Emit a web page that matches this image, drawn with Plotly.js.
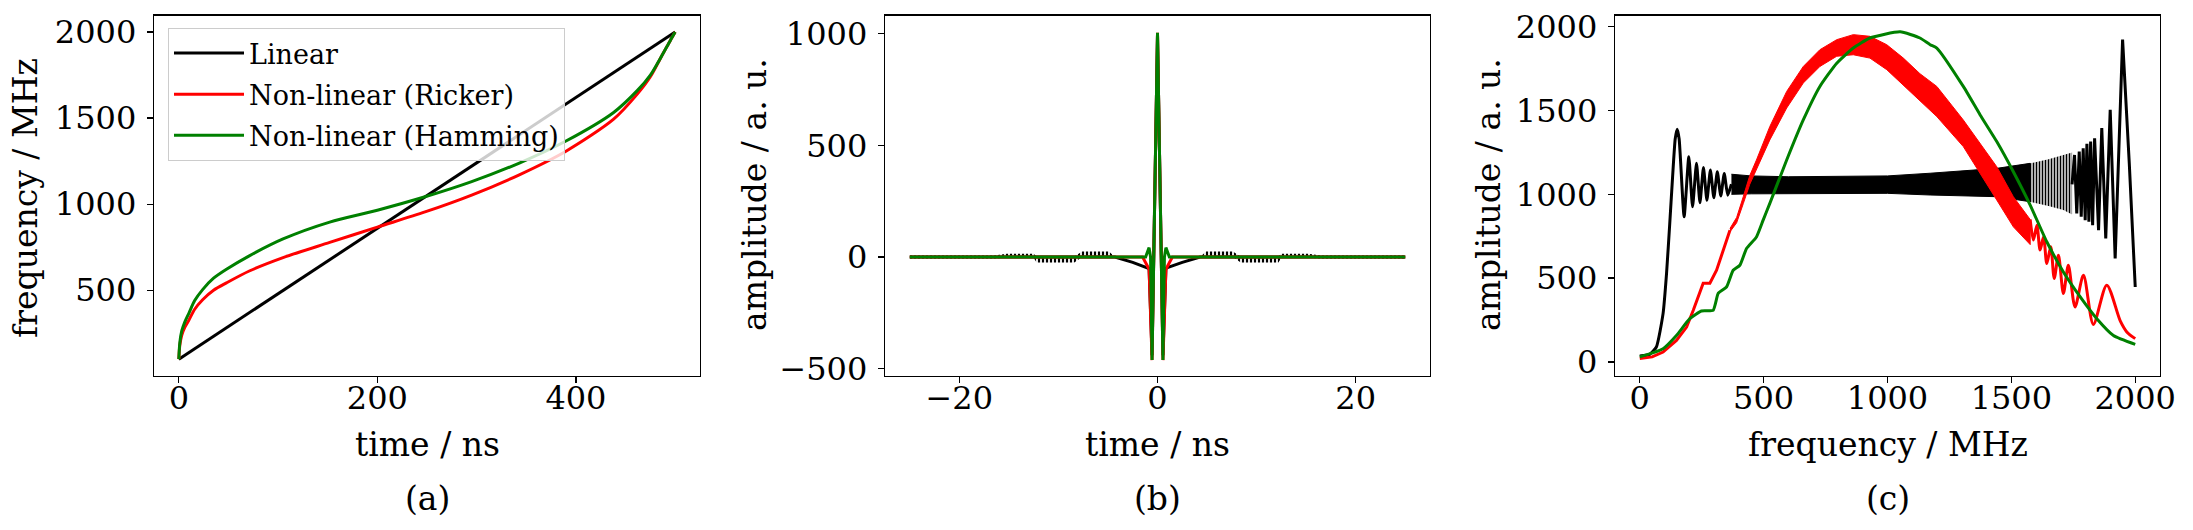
<!DOCTYPE html>
<html>
<head>
<meta charset="utf-8">
<script src="https://cdn.plot.ly/plotly-3.0.1.min.js"></script>
<style>body { margin: 0; background: #fff; }</style>
</head>
<body>
<div id="main" style="width:2193px;height:530px"></div>
<script>
// (a) chirp frequency vs time
const linTime = [0, 500]
const linFreq = [100, 2000]
const nlTime = [0, 1, 3, 6, 10, 16, 24, 35, 48, 71, 105, 152, 200, 248, 295, 343, 390, 438, 462, 475, 486, 495, 500]
const rickerFreq = [100, 180, 240, 285, 325, 390, 445, 500, 543, 612, 690, 778, 867, 955, 1053, 1171, 1308, 1494, 1641, 1740, 1857, 1950, 2000]
const hammingFreq = [100, 195, 265, 315, 365, 440, 504, 570, 622, 700, 798, 896, 965, 1043, 1131, 1239, 1367, 1533, 1661, 1750, 1857, 1950, 2000]

// (b) compressed pulse
const pulseLinT = [-25, -4.3, -2.5, -1.0, -0.85, -0.55, 0, 0.55, 0.85, 1.0, 2.5, 4.3, 25]
const pulseLinA = [0, 0, -24, -48, -52, -440, 1000, -440, -52, -48, -24, 0, 0]
const rippleT = [-25, -16.5, -15.2, -12.5, -12.2, -8.4, -7.6, -4.9, -4.3, 4.3, 4.9, 7.6, 8.4, 12.2, 12.5, 15.2, 16.5, 25]
const rippleHi = [7, 7, 15, 15, 2, 2, 24, 24, 0, 0, 24, 24, 2, 2, 15, 15, 7, 7]
const rippleLo = [-7, -7, -3, -3, -25, -25, 0, 0, 0, 0, 0, 0, -25, -25, -3, -3, -7, -7]
const pulseRickerT = [-25, -1.5, -0.85, -0.55, 0, 0.55, 0.85, 1.5, 25]
const pulseRickerA = [0, 0, -55, -462, 1005, -462, -55, 0, 0]
const pulseHammT = [-25, -1.2, -0.85, -0.7, -0.55, 0, 0.55, 0.7, 0.85, 1.2, 25]
const pulseHammA = [0, 0, 42, 0, -462, 1005, -462, 0, 42, 0, 0]

// (c) spectra
const specLinF1 = [0, 40, 67, 94, 108, 121, 135, 143, 151, 159, 179, 198, 213, 229, 243, 257, 271, 285, 299, 313, 327, 341, 355, 370]
const specLinA1 = [35, 45, 89, 288, 527, 826, 1165, 1330, 1389, 1330, 866, 1225, 926, 1185, 950, 1160, 965, 1145, 980, 1135, 990, 1125, 995, 1060]
const specLinBandF = [370, 450, 600, 800, 1000, 1172, 1300, 1441, 1576]
const specLinBandHi = [1120, 1110, 1105, 1108, 1110, 1126, 1140, 1155, 1185]
const specLinBandLo = [1000, 1003, 1006, 1006, 1006, 996, 990, 986, 956]
const specLinFanF = [1560, 1576, 1650, 1710, 1745]
const specLinFanHi = [1180, 1185, 1210, 1235, 1250]
const specLinFanLo = [960, 956, 930, 906, 880]
const specLinF2 = [1745, 1755, 1764, 1774, 1782, 1790, 1798, 1805, 1813, 1820, 1828, 1836, 1852, 1865, 1881, 1899, 1919, 1949, 1976, 2000]
const specLinA2 = [1060, 1235, 886, 1255, 866, 1275, 846, 1301, 836, 1315, 816, 1335, 786, 1395, 737, 1504, 617, 1923, 1185, 447]

const specRickerF1 = [0, 50, 94, 148, 189, 216, 256, 283, 310, 337, 364]
const specRickerA1 = [21, 30, 59, 128, 208, 308, 469, 470, 547, 667, 786]
const specRickerBandF = [364, 391, 418, 444, 471, 525, 593, 660, 727, 795, 862, 929, 997, 1064, 1131, 1199, 1306, 1374, 1441, 1508, 1576]
const specRickerBandLo = [776, 830, 945, 1060, 1145, 1325, 1515, 1664, 1763, 1824, 1833, 1813, 1744, 1654, 1560, 1464, 1285, 1126, 966, 806, 700]
const specRickerBandHi = [796, 862, 987, 1112, 1205, 1405, 1614, 1763, 1863, 1923, 1953, 1943, 1893, 1813, 1720, 1644, 1444, 1305, 1165, 986, 850]
const specRickerF2 = [1576, 1589, 1603, 1616, 1630, 1643, 1659, 1673, 1690, 1710, 1730, 1757, 1791, 1831, 1885, 1940, 1966, 2000]
const specRickerA2 = [850, 727, 816, 668, 747, 587, 687, 498, 637, 408, 577, 328, 517, 224, 458, 243, 179, 139]

const specHammF = [0, 94, 148, 202, 249, 296, 317, 350, 377, 404, 431, 471, 498, 525, 593, 660, 727, 795, 862, 929, 1051, 1131, 1172, 1199, 1306, 1374, 1441, 1508, 1576, 1643, 1710, 1778, 1845, 1912, 2000]
const specHammA = [30, 79, 158, 258, 304, 308, 410, 447, 547, 577, 677, 746, 846, 946, 1205, 1444, 1644, 1783, 1873, 1933, 1970, 1933, 1893, 1873, 1644, 1474, 1315, 1135, 936, 717, 537, 388, 258, 158, 105]

const legendNames = ['Linear', 'Non-linear (Ricker)', 'Non-linear (Hamming)']
const BLACK = '#000000', RED = '#ff0000', GREEN = '#008000'
const FONT = 'DejaVu Serif'
const LW = 3

const line = (x, y, color, ax, extra) => Object.assign({
  x: x, y: y, type: 'scatter', mode: 'lines',
  line: { color: color, width: LW },
  xaxis: ax[0], yaxis: ax[1], showlegend: false, hoverinfo: 'skip'
}, extra || {})

const smooth = (color, s) => ({ line: { color: color, width: LW, shape: 'spline', smoothing: s } })

// dense oscillations drawn as a filled envelope
const band = (x, lo, hi, color, ax, pattern) => {
  const tr = {
    x: x.concat(x.slice().reverse()),
    y: hi.concat(lo.slice().reverse()),
    type: 'scatter', mode: 'lines', fill: 'toself', fillcolor: color,
    line: { color: color, width: 1 },
    xaxis: ax[0], yaxis: ax[1], showlegend: false, hoverinfo: 'skip'
  }
  if (pattern) {
    tr.fillpattern = { shape: '|', size: pattern, solidity: 0.55, fgcolor: color, bgcolor: 'rgba(0,0,0,0)', fillmode: 'replace' }
    tr.line = { color: color, width: 0 }
  }
  return tr
}

const A = ['x', 'y'], B = ['x2', 'y2'], C = ['x3', 'y3']

const data = [
  line(linTime, linFreq, BLACK, A, { name: legendNames[0], showlegend: true, legendgroup: 'g1' }),
  line(nlTime, rickerFreq, RED, A, Object.assign({ name: legendNames[1], showlegend: true, legendgroup: 'g2' }, smooth(RED, 0.8))),
  line(nlTime, hammingFreq, GREEN, A, Object.assign({ name: legendNames[2], showlegend: true, legendgroup: 'g3' }, smooth(GREEN, 0.8))),

  band(rippleT, rippleLo, rippleHi, BLACK, B, 4),
  line(pulseLinT, pulseLinA, BLACK, B),
  line(pulseRickerT, pulseRickerA, RED, B),
  line(pulseHammT, pulseHammA, GREEN, B),

  line(specLinF1, specLinA1, BLACK, C, smooth(BLACK, 0.5)),
  band(specLinBandF, specLinBandLo, specLinBandHi, BLACK, C),
  band(specLinFanF, specLinFanLo, specLinFanHi, BLACK, C, 3),
  line(specLinF2, specLinA2, BLACK, C),
  line(specRickerF1, specRickerA1, RED, C),
  band(specRickerBandF, specRickerBandLo, specRickerBandHi, RED, C),
  line(specRickerF2, specRickerA2, RED, C, smooth(RED, 0.8)),
  line(specHammF, specHammA, GREEN, C, smooth(GREEN, 0.5)),
]

const W = 2193, H = 530
const px = v => v / W
const py = v => 1 - v / H
const yDom = [py(375.5), py(15.7)]

const axis = (domain, range, extra) => Object.assign({
  domain: domain, range: range, showline: true, mirror: true,
  linecolor: '#000', linewidth: 1.3, ticks: 'outside', ticklen: 6, tickwidth: 1.3,
  tickcolor: '#000', showgrid: false, zeroline: false, automargin: false,
  tickfont: { family: FONT, size: 32, color: '#000' }, ticklabelstandoff: 4
}, extra)

const ann = (text, x, y, angle) => ({
  text: text, x: x, y: y, xref: 'paper', yref: 'paper', showarrow: false,
  xanchor: 'center', yanchor: 'middle', textangle: angle || 0,
  font: { family: FONT, size: 33, color: '#000' }
})

const layout = {
  width: W, height: H,
  margin: { l: 0, r: 0, t: 0, b: 0 },
  paper_bgcolor: '#fff', plot_bgcolor: '#fff',
  xaxis: axis([px(154), px(700)], [-25, 525], { tickvals: [0, 200, 400], anchor: 'y', ticklabelstandoff: -12 }),
  yaxis: axis(yDom, [5, 2095], { tickvals: [500, 1000, 1500, 2000], anchor: 'x' }),
  xaxis2: axis([px(885), px(1430)], [-27.5, 27.5], { tickvals: [-20, 0, 20], anchor: 'y2', ticklabelstandoff: -12 }),
  yaxis2: axis(yDom, [-531, 1081], { tickvals: [-500, 0, 500, 1000], anchor: 'x2' }),
  xaxis3: axis([px(1615), px(2160)], [-100, 2100], { tickvals: [0, 500, 1000, 1500, 2000], anchor: 'y3', ticklabelstandoff: -12 }),
  yaxis3: axis(yDom, [-81, 2066], { tickvals: [0, 500, 1000, 1500, 2000], anchor: 'x3' }),
  showlegend: true,
  legend: {
    x: px(168), y: py(28), xanchor: 'left', yanchor: 'top',
    bgcolor: 'rgba(255,255,255,0.8)', bordercolor: '#cccccc', borderwidth: 1,
    font: { family: FONT, size: 27, color: '#000' }, tracegroupgap: 3, itemwidth: 70
  },
  annotations: [
    ann('time / ns', px(427), py(444)),
    ann('time / ns', px(1157.5), py(444)),
    ann('frequency / MHz', px(1887.5), py(444)),
    ann('frequency / MHz', px(26), py(198), -90),
    ann('amplitude / a. u.', px(754), py(195), -90),
    ann('amplitude / a. u.', px(1488), py(195), -90),
    ann('(a)', px(427), py(498)),
    ann('(b)', px(1157.5), py(498)),
    ann('(c)', px(1887.5), py(498)),
  ]
}

Plotly.newPlot('main', data, layout, { staticPlot: true })
</script>
</body>
</html>
